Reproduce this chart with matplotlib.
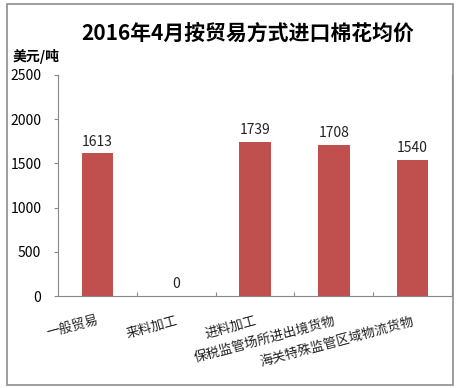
import matplotlib
matplotlib.use("Agg")
import matplotlib.pyplot as plt
from matplotlib.patches import Rectangle

plt.rcParams['font.family'] = ['Noto Sans CJK SC', 'DejaVu Sans']

categories = ["一般贸易", "来料加工", "进料加工", "保税监管场所进出境货物", "海关特殊监管区域物流货物"]
values = [1613, 0, 1739, 1708, 1540]
yticks = [0, 500, 1000, 1500, 2000, 2500]
title = "2016年4月按贸易方式进口棉花均价"
unit = "美元/吨"

fig = plt.figure(figsize=(4.59, 3.88), dpi=100)
fig.patches.append(Rectangle((7/459, 1-385/388), 446/459, 381/388, transform=fig.transFigure,
                             fill=False, edgecolor="#8c8c8c", linewidth=1.2))
ax = fig.add_axes([58/459, 1-296/388, 394/459, 221/388])
x = list(range(len(categories)))
ax.bar(x, values, width=0.4, color="#C0504D")
for xi, v in zip(x, values):
    ax.text(xi, v + 55, str(v), ha="center", va="bottom", fontsize=10, color="#222222")
ax.set_xlim(-0.5, len(categories) - 0.5)
ax.set_ylim(0, 2500)
ax.set_yticks(yticks)
ax.set_yticklabels([str(t) for t in yticks], fontsize=10)
ax.set_xticks([i + 0.5 for i in range(len(categories))], minor=False)
ax.set_xticklabels([])
ax.tick_params(axis='x', direction='in', length=3, color="#888888")
ax.tick_params(axis='y', direction='out', length=3, color="#888888", pad=9)
for s in ["top"]:
    ax.spines[s].set_visible(False)
for s in ["left", "bottom", "right"]:
    ax.spines[s].set_color("#888888")
    ax.spines[s].set_linewidth(0.8)
for xi, c in zip(x, categories):
    ax.annotate(c, xy=(xi, 0), xycoords=('data', 'axes fraction'), xytext=(1, -18),
                textcoords='offset points', rotation=15, ha='right', va='center',
                rotation_mode='anchor', fontsize=9.5, color="#222222")
fig.text(248/459, 1-33/388, title, ha="center", va="center", fontsize=15, fontweight="bold")
fig.text(13/459, 1-56/388, unit, ha="left", va="center", fontsize=10, fontweight="bold")
fig.savefig("out.png", dpi=100)
